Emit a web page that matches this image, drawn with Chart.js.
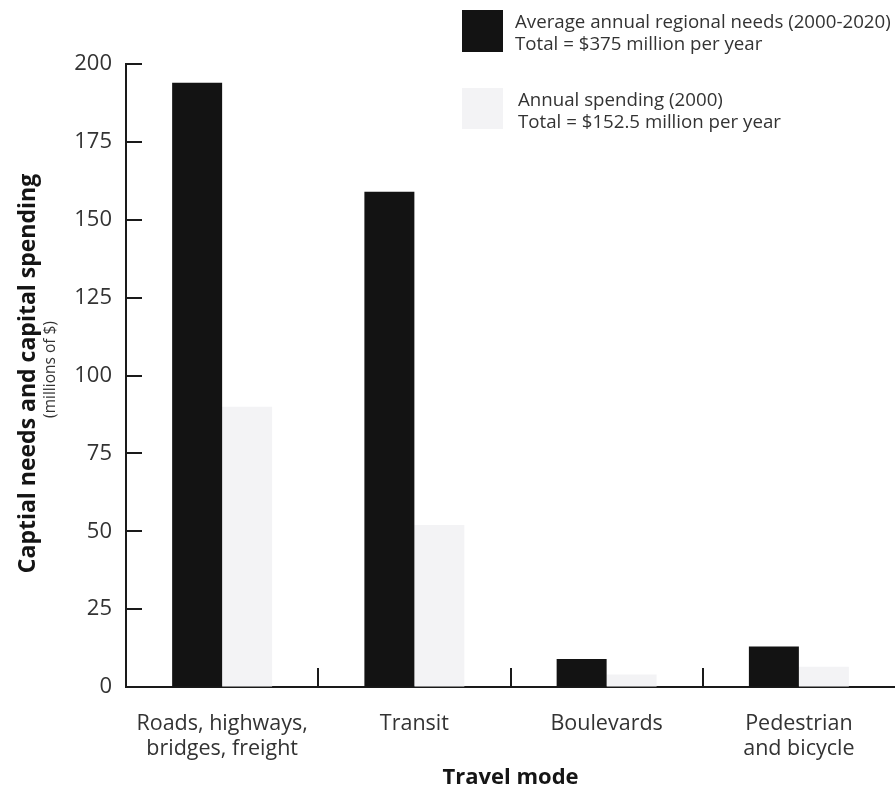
<!DOCTYPE html>
<html>
<head>
<meta charset="utf-8">
<script src="https://cdn.jsdelivr.net/npm/chart.js@4"></script>
<style>
  html, body { margin: 0; padding: 0; background: #ffffff; }
  #wrap { width: 895px; height: 791px; position: relative; }
</style>
</head>
<body>
<div id="wrap"><canvas id="c" width="895" height="791"></canvas></div>
<script>
// Travel modes on the x axis
const categories = [
  ["Roads, highways,", "bridges, freight"],
  "Transit",
  "Boulevards",
  ["Pedestrian", "and bicycle"]
];

// Series (millions of $ per year)
const annualNeeds = [194, 159, 9, 13];
const annualSpending = [90, 52, 4, 6.5];

const needsLegend = ["Average annual regional needs (2000-2020)", "Total = $375 million per year"];
const spendingLegend = ["Annual spending (2000)", "Total = $152.5 million per year"];

// Value axis
const yMin = 0;
const yMax = 200;
const yStep = 25;

const yTitle = "Captial needs and capital spending";
const ySubtitle = "(millions of $)";
const xTitle = "Travel mode";

const FONT = "'Open Sans', 'DejaVu Sans', sans-serif";
const NEEDS_COLOR = "#131313";
const SPENDING_COLOR = "#f3f3f5";
const AXIS_COLOR = "#1a1a1a";
const TEXT_COLOR = "#333333";

// Short inward tick marks on the value axis, separators between categories,
// the two-line value-axis title and the legend block in the upper right.
const decorations = {
  id: "decorations",
  afterDatasetsDraw(chart) {
    const { ctx, scales: { x, y } } = chart;
    ctx.save();
    ctx.strokeStyle = AXIS_COLOR;
    ctx.lineWidth = 2;
    y.ticks.forEach(t => {
      if (t.value === yMin) return;
      const py = Math.round(y.getPixelForValue(t.value));
      ctx.beginPath();
      ctx.moveTo(y.right, py);
      ctx.lineTo(y.right + 16, py);
      ctx.stroke();
    });
    for (let i = 0; i < categories.length - 1; i++) {
      const px = Math.round((x.getPixelForValue(i) + x.getPixelForValue(i + 1)) / 2);
      ctx.beginPath();
      ctx.moveTo(px, x.top);
      ctx.lineTo(px, x.top - 19);
      ctx.stroke();
    }
    ctx.restore();
  },
  afterDraw(chart) {
    const { ctx, chartArea } = chart;
    ctx.save();
    // value-axis title
    const cy = (chartArea.top + chartArea.bottom) / 2 - 2;
    ctx.translate(28, cy);
    ctx.rotate(-Math.PI / 2);
    ctx.textAlign = "center";
    ctx.textBaseline = "middle";
    ctx.fillStyle = "#151515";
    ctx.font = "bold 23px " + FONT;
    ctx.fillText(yTitle, 0, 0);
    ctx.fillStyle = TEXT_COLOR;
    ctx.font = "15.5px " + FONT;
    ctx.fillText(ySubtitle, 4, 23);
    ctx.restore();

    // legend
    const ds = chart.data.datasets;
    ctx.save();
    ctx.fillStyle = ds[0].backgroundColor;
    ctx.fillRect(462, 10, 41, 42);
    ctx.fillStyle = ds[1].backgroundColor;
    ctx.fillRect(462, 88, 41, 41);
    ctx.fillStyle = TEXT_COLOR;
    ctx.font = "18.7px " + FONT;
    ctx.textAlign = "left";
    ctx.textBaseline = "alphabetic";
    ctx.fillText(needsLegend[0], 515, 28);
    ctx.fillText(needsLegend[1], 515, 50);
    ctx.fillText(spendingLegend[0], 518, 106);
    ctx.fillText(spendingLegend[1], 518, 128);
    ctx.restore();
  }
};

new Chart(document.getElementById("c"), {
  type: "bar",
  data: {
    labels: categories,
    datasets: [
      {
        label: needsLegend.join(" "),
        data: annualNeeds,
        backgroundColor: NEEDS_COLOR,
        borderWidth: 0,
        categoryPercentage: 0.52,
        barPercentage: 1.0
      },
      {
        label: spendingLegend.join(" "),
        data: annualSpending,
        backgroundColor: SPENDING_COLOR,
        borderWidth: 0,
        categoryPercentage: 0.52,
        barPercentage: 1.0
      }
    ]
  },
  options: {
    responsive: false,
    animation: false,
    devicePixelRatio: 1,
    layout: { padding: { top: 64, right: 0, bottom: 0, left: 0 } },
    plugins: {
      legend: { display: false },
      tooltip: { enabled: false }
    },
    scales: {
      x: {
        offset: true,
        grid: { display: false, drawTicks: false },
        border: { display: true, color: AXIS_COLOR, width: 2 },
        ticks: {
          color: TEXT_COLOR,
          font: { family: FONT, size: 21.5, lineHeight: 1.17 },
          padding: 24,
          maxRotation: 0,
          autoSkip: false
        },
        title: {
          display: true,
          text: xTitle,
          color: "#151515",
          font: { family: FONT, size: 22, weight: "bold" },
          padding: { top: 4, bottom: 0 }
        },
        afterFit(scale) { scale.height = 104; }
      },
      y: {
        min: yMin,
        max: yMax,
        grid: { display: true, drawOnChartArea: false, drawTicks: false },
        border: { display: true, color: AXIS_COLOR, width: 2 },
        ticks: {
          stepSize: yStep,
          color: TEXT_COLOR,
          font: { family: FONT, size: 22 },
          padding: 14
        },
        afterFit(scale) { scale.width = 126; }
      }
    }
  },
  plugins: [decorations]
});
</script>
</body>
</html>
